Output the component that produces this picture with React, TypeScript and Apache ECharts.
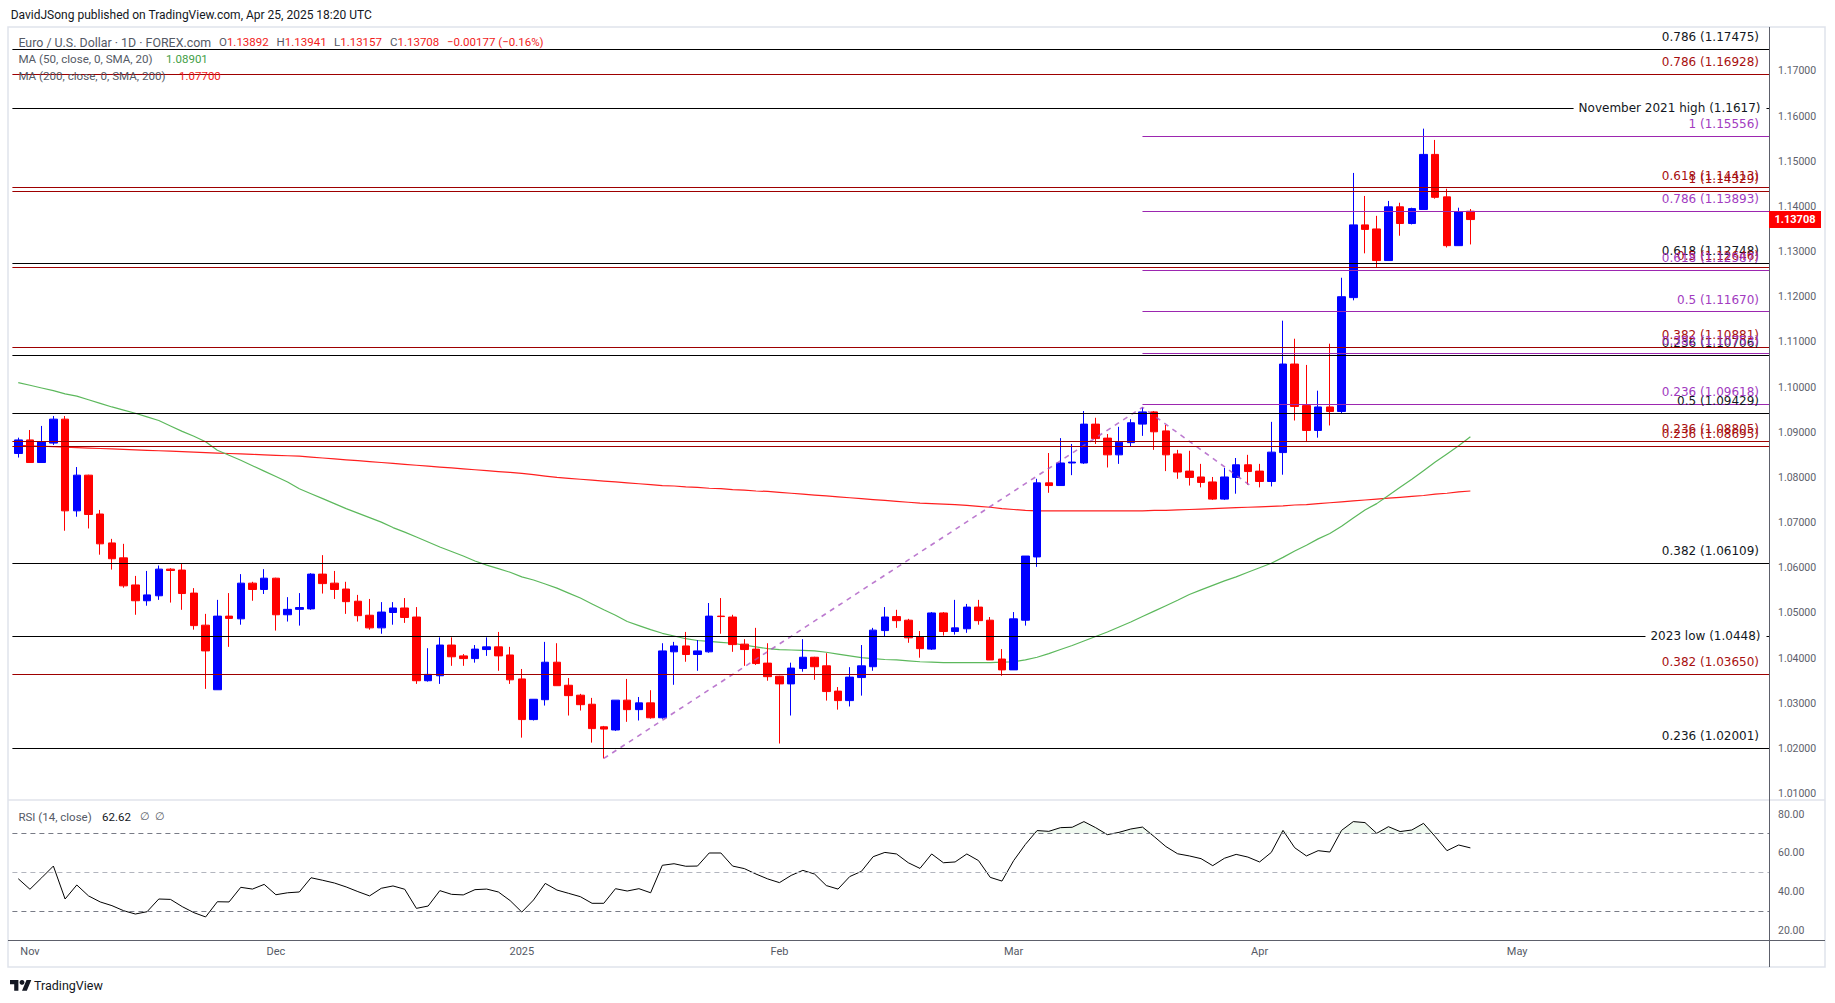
import React, { useEffect, useRef } from 'react';
import * as echarts from 'echarts';

// ---------- categories ----------
function buildTradingDays(start: string, end: string, skip: string[]): string[] {
  const out: string[] = [];
  const d = new Date(start + 'T00:00:00Z');
  const e = new Date(end + 'T00:00:00Z');
  while (d <= e) {
    const wd = d.getUTCDay();
    const s = d.toISOString().slice(0, 10);
    if (wd !== 0 && wd !== 6 && skip.indexOf(s) < 0) out.push(s);
    d.setUTCDate(d.getUTCDate() + 1);
  }
  return out;
}
const holidays = ['2024-12-25', '2025-01-01'];
const dates = buildTradingDays('2024-10-31', '2025-05-30', holidays); // 150 slots, 125 with data

const timeTickDates = ['2024-11-01', '2024-12-02', '2025-01-02', '2025-02-03', '2025-03-03', '2025-04-01', '2025-05-01'];
const timeTickLabels = ['Nov', 'Dec', '2025', 'Feb', 'Mar', 'Apr', 'May'];

const priceTicks = [1.01, 1.02, 1.03, 1.04, 1.05, 1.06, 1.07, 1.08, 1.09, 1.1, 1.11, 1.12, 1.13, 1.14, 1.15, 1.16, 1.17];
const rsiTicks = [20, 40, 60, 80];

// ---------- OHLC ----------
const opens = [
  1.0853, 1.0883, 1.0833, 1.0876, 1.0929, 1.0726, 1.0805, 1.0719, 1.0655, 1.0622,
  1.0562, 1.0527, 1.0538, 1.0597, 1.0595, 1.0544, 1.0473, 1.0330, 1.0493, 1.0487,
  1.0566, 1.0552, 1.0577, 1.0496, 1.0508, 1.0509, 1.0586, 1.0566, 1.0553, 1.0526,
  1.0495, 1.0467, 1.0501, 1.0511, 1.0491, 1.0350, 1.0361, 1.0429, 1.0405, 1.0399,
  1.0419, 1.0425, 1.0407, 1.0354, 1.0264, 1.0308, 1.0391, 1.0340, 1.0318, 1.0298,
  1.0248, 1.0241, 1.0307, 1.0286, 1.0301, 1.0268, 1.0414, 1.0427, 1.0408, 1.0414,
  1.0493, 1.0491, 1.0431, 1.0420, 1.0389, 1.0360, 1.0343, 1.0377, 1.0402, 1.0383,
  1.0327, 1.0306, 1.0357, 1.0381, 1.0461, 1.0492, 1.0484, 1.0447, 1.0420, 1.0500,
  1.0459, 1.0465, 1.0513, 1.0484, 1.0398, 1.0374, 1.0484, 1.0624, 1.0788, 1.0782,
  1.0832, 1.0832, 1.0918, 1.0887, 1.0850, 1.0877, 1.0918, 1.0945, 1.0903, 1.0852,
  1.0814, 1.0801, 1.0790, 1.0752, 1.0800, 1.0828, 1.0814, 1.0791, 1.0855, 1.1051,
  1.0959, 1.0904, 1.0956, 1.0946, 1.1198, 1.1359, 1.1350, 1.1280, 1.1399, 1.1362,
  1.1393, 1.1515, 1.1421, 1.1313, 1.13892,
];
const highs = [
  1.0888, 1.0905, 1.0914, 1.0936, 1.0936, 1.0823, 1.0806, 1.0728, 1.0664, 1.0653,
  1.0582, 1.0593, 1.0605, 1.0599, 1.0609, 1.0555, 1.0498, 1.0529, 1.0544, 1.0586,
  1.0569, 1.0597, 1.0578, 1.0535, 1.0544, 1.0588, 1.0628, 1.0593, 1.0569, 1.0540,
  1.0531, 1.0524, 1.0524, 1.0533, 1.0513, 1.0422, 1.0446, 1.0446, 1.0409, 1.0429,
  1.0446, 1.0458, 1.0425, 1.0376, 1.0309, 1.0436, 1.0433, 1.0356, 1.0321, 1.0312,
  1.0250, 1.0307, 1.0354, 1.0314, 1.0329, 1.0433, 1.0436, 1.0458, 1.0440, 1.0522,
  1.0533, 1.0496, 1.0442, 1.0467, 1.0433, 1.0361, 1.0390, 1.0442, 1.0403, 1.0411,
  1.0336, 1.0380, 1.0429, 1.0467, 1.0513, 1.0507, 1.0487, 1.0460, 1.0502, 1.0502,
  1.0529, 1.0520, 1.0529, 1.0491, 1.0420, 1.0502, 1.0626, 1.0797, 1.0854, 1.0887,
  1.0874, 1.0947, 1.0932, 1.0896, 1.0912, 1.0929, 1.0955, 1.0947, 1.0916, 1.0861,
  1.0859, 1.0830, 1.0801, 1.0821, 1.0843, 1.0850, 1.0830, 1.0923, 1.1147, 1.1107,
  1.1049, 1.0992, 1.1096, 1.1242, 1.1474, 1.1423, 1.1379, 1.1412, 1.1408, 1.1397,
  1.1572, 1.1547, 1.1439, 1.1397, 1.13941,
];
const lows = [
  1.0844, 1.0833, 1.0833, 1.0872, 1.0682, 1.0713, 1.0687, 1.0629, 1.0596, 1.0556,
  1.0496, 1.0516, 1.0529, 1.0523, 1.0507, 1.0463, 1.0332, 1.0330, 1.0425, 1.0474,
  1.0527, 1.0542, 1.0461, 1.0481, 1.0472, 1.0507, 1.0543, 1.0531, 1.0498, 1.0481,
  1.0463, 1.0454, 1.0474, 1.0478, 1.0343, 1.0348, 1.0343, 1.0383, 1.0383, 1.0390,
  1.0405, 1.0372, 1.0343, 1.0224, 1.0262, 1.0295, 1.0339, 1.0273, 1.0284, 1.0213,
  1.0178, 1.0239, 1.0259, 1.0262, 1.0266, 1.0266, 1.0341, 1.0392, 1.0372, 1.0412,
  1.0454, 1.0414, 1.0383, 1.0385, 1.0350, 1.0211, 1.0273, 1.0370, 1.0352, 1.0306,
  1.0286, 1.0293, 1.0317, 1.0372, 1.0447, 1.0467, 1.0434, 1.0401, 1.0418, 1.0450,
  1.0452, 1.0456, 1.0474, 1.0396, 1.0361, 1.0374, 1.0472, 1.0602, 1.0766, 1.0782,
  1.0805, 1.0830, 1.0874, 1.0822, 1.0830, 1.0868, 1.0892, 1.0861, 1.0814, 1.0797,
  1.0782, 1.0778, 1.0750, 1.0750, 1.0764, 1.0784, 1.0778, 1.0780, 1.0806, 1.0926,
  1.0879, 1.0888, 1.0915, 1.0942, 1.1192, 1.1296, 1.1265, 1.1280, 1.1335, 1.1360,
  1.1393, 1.1417, 1.1309, 1.1313, 1.13157,
];
const closes = [
  1.0883, 1.0833, 1.0879, 1.0929, 1.0726, 1.0805, 1.0718, 1.0653, 1.0620, 1.0560,
  1.0527, 1.0540, 1.0597, 1.0594, 1.0543, 1.0472, 1.0416, 1.0493, 1.0488, 1.0566,
  1.0552, 1.0577, 1.0496, 1.0508, 1.0512, 1.0586, 1.0565, 1.0552, 1.0525, 1.0494,
  1.0467, 1.0502, 1.0511, 1.0490, 1.0350, 1.0364, 1.0429, 1.0403, 1.0399, 1.0420,
  1.0425, 1.0405, 1.0352, 1.0264, 1.0309, 1.0391, 1.0339, 1.0317, 1.0297, 1.0244,
  1.0243, 1.0307, 1.0286, 1.0301, 1.0268, 1.0416, 1.0427, 1.0408, 1.0416, 1.0493,
  1.0492, 1.0430, 1.0419, 1.0388, 1.0359, 1.0343, 1.0378, 1.0402, 1.0381, 1.0326,
  1.0306, 1.0358, 1.0383, 1.0462, 1.0491, 1.0483, 1.0445, 1.0421, 1.0500, 1.0459,
  1.0467, 1.0513, 1.0483, 1.0396, 1.0374, 1.0487, 1.0626, 1.0788, 1.0782, 1.0832,
  1.0834, 1.0918, 1.0886, 1.0850, 1.0878, 1.0921, 1.0945, 1.0901, 1.0850, 1.0812,
  1.0800, 1.0789, 1.0752, 1.0801, 1.0828, 1.0813, 1.0791, 1.0856, 1.1051, 1.0957,
  1.0904, 1.0956, 1.0946, 1.1200, 1.1359, 1.1349, 1.1280, 1.1399, 1.1362, 1.1395,
  1.1515, 1.1420, 1.1313, 1.1388, 1.13708,
];

// ---------- moving averages ----------
const ma50 = [
  1.1010, 1.1004, 1.0998, 1.0992, 1.0985, 1.0980, 1.0972, 1.0964, 1.0956, 1.0949,
  1.0942, 1.0934, 1.0926, 1.0914, 1.0902, 1.0891, 1.0879, 1.0860, 1.0849, 1.0838,
  1.0826, 1.0814, 1.0802, 1.0790, 1.0775, 1.0764, 1.0753, 1.0742, 1.0731, 1.0721,
  1.0711, 1.0701, 1.0689, 1.0679, 1.0668, 1.0657, 1.0646, 1.0636, 1.0626, 1.0615,
  1.0606, 1.0598, 1.0590, 1.0580, 1.0573, 1.0564, 1.0555, 1.0544, 1.0533, 1.0520,
  1.0507, 1.0495, 1.0481, 1.0472, 1.0463, 1.0455, 1.0449, 1.0443, 1.0439, 1.0437,
  1.0435, 1.0433, 1.0429, 1.0425, 1.0421, 1.0419, 1.0418, 1.0417, 1.0416, 1.0413,
  1.0409, 1.0405, 1.0401, 1.0399, 1.0397, 1.0396, 1.0394, 1.0392, 1.0391, 1.0390,
  1.0390, 1.0390, 1.0390, 1.0390, 1.0391, 1.0392, 1.0396, 1.0402, 1.0410, 1.0419,
  1.0428, 1.0438, 1.0448, 1.0458, 1.0469, 1.0480, 1.0492, 1.0504, 1.0516, 1.0528,
  1.0541, 1.0551, 1.0561, 1.0571, 1.0580, 1.0590, 1.0600, 1.0610, 1.0623, 1.0637,
  1.0650, 1.0664, 1.0676, 1.0692, 1.0710, 1.0728, 1.0742, 1.0760, 1.0778, 1.0796,
  1.0815, 1.0834, 1.0852, 1.0870, 1.0890,
];
const ma200 = [
  1.0871, 1.0870, 1.0869, 1.0868, 1.0867, 1.0866, 1.0865, 1.0864, 1.0863, 1.0862,
  1.0861, 1.0860, 1.0859, 1.0858, 1.0857, 1.0856, 1.0855, 1.0854, 1.0853, 1.0852,
  1.0851, 1.0850, 1.0849, 1.0848, 1.0847, 1.0845, 1.0843, 1.0841, 1.0839, 1.0837,
  1.0835, 1.0833, 1.0831, 1.0829, 1.0827, 1.0825, 1.0823, 1.0821, 1.0819, 1.0817,
  1.0815, 1.0813, 1.0811, 1.0809, 1.0806, 1.0803, 1.0800, 1.0798, 1.0796, 1.0794,
  1.0792, 1.0790, 1.0788, 1.0786, 1.0784, 1.0782, 1.0781, 1.0779, 1.0778, 1.0776,
  1.0775, 1.0773, 1.0772, 1.0770, 1.0769, 1.0767, 1.0765, 1.0763, 1.0761, 1.0759,
  1.0757, 1.0755, 1.0753, 1.0751, 1.0749, 1.0747, 1.0745, 1.0743, 1.0742, 1.0741,
  1.0740, 1.0738, 1.0736, 1.0734, 1.0731, 1.0729, 1.0727, 1.0726, 1.0726, 1.0726,
  1.0726, 1.0726, 1.0726, 1.0726, 1.0726, 1.0726, 1.0726, 1.0727, 1.0727, 1.0728,
  1.0729, 1.0730, 1.0731, 1.0732, 1.0733, 1.0734, 1.0735, 1.0736, 1.0737, 1.0739,
  1.0740, 1.0742, 1.0744, 1.0746, 1.0748, 1.0750, 1.0752, 1.0754, 1.0756, 1.0758,
  1.0760, 1.0763, 1.0765, 1.0768, 1.0770,
];

// ---------- RSI ----------
const rsi = [
  46.8, 41.4, 47.3, 53.3, 36.4, 43.6, 38.0, 34.9, 33.0, 30.4,
  28.7, 29.9, 36.4, 36.2, 32.5, 29.4, 27.2, 35.0, 34.9, 42.4,
  41.5, 43.9, 38.6, 39.6, 40.0, 47.3, 46.0, 44.6, 42.6, 40.2,
  38.0, 41.9, 43.1, 41.4, 31.6, 32.8, 40.7, 38.8, 38.5, 41.2,
  41.5, 40.0, 35.6, 29.7, 35.9, 44.4, 41.0, 39.3, 37.6, 34.2,
  34.2, 41.7, 40.5, 41.7, 39.6, 53.7, 54.5, 53.2, 53.3, 60.0,
  60.0, 53.3, 52.0, 49.2, 46.7, 44.8, 48.5, 51.1, 49.2, 43.3,
  41.5, 47.9, 50.6, 58.1, 60.3, 59.5, 55.0, 52.1, 59.5, 55.0,
  55.4, 59.5, 56.1, 47.5, 45.6, 56.1, 64.4, 71.5, 71.1, 73.0,
  73.2, 76.1, 73.0, 69.4, 70.6, 72.3, 73.3, 68.4, 63.3, 59.6,
  58.5, 57.1, 53.5, 57.3, 59.3, 57.9, 55.4, 60.3, 71.6, 62.7,
  58.5, 61.2, 60.5, 71.6, 76.1, 75.6, 70.1, 73.5, 71.0, 71.8,
  75.2, 68.4, 61.2, 64.1, 62.62,
];

// ---------- drawn levels ----------
const blackLevels = [1.17475, 1.12748, 1.10706, 1.09429, 1.06109, 1.02001];
const blackLabels = ['0.786 (1.17475)', '0.618 (1.12748)', '0.236 (1.10706)', '0.5 (1.09429)', '0.382 (1.06109)', '0.236 (1.02001)'];
const redLevels = [1.16928, 1.14413, 1.14329, 1.12646, 1.10881, 1.08805, 1.08695, 1.0365];
const redLabels = ['0.786 (1.16928)', '0.618 (1.14413)', '1 (1.14329)', '0.5 (1.12646)', '0.382 (1.10881)', '0.236 (1.08805)', '0.236 (1.08695)', '0.382 (1.03650)'];
const purpleLevels = [1.15556, 1.13893, 1.12587, 1.1167, 1.10753, 1.09618];
const purpleLabels = ['1 (1.15556)', '0.786 (1.13893)', '0.618 (1.12587)', '0.5 (1.11670)', '0.382 (1.10753)', '0.236 (1.09618)'];
const inlineLevels = [1.1617, 1.0448];
const inlineLabels = ['November 2021 high (1.1617)', '2023 low (1.0448)'];
// trend-based fib extension anchors (bar index, price)
const fibAnchorIdx = [50, 96, 105.4];
const fibAnchorPrice = [1.0178, 1.09552, 1.07784];
const lastClose = 1.13708;

const C_BLACK = '#000000';
const C_RED = '#9e0000';
const C_RED_TXT = '#a80f0f';
const C_PURPLE = '#9c27b0';
const C_PURPLE_TXT = '#a23bbf';
const C_AXIS = '#5d606b';
const FONT_UI = 'Roboto, "Liberation Sans", sans-serif';
const FONT_LVL = '"DejaVu Sans", sans-serif';

echarts.graphic.registerShape(
  'tvlogo',
  (echarts.graphic as any).extendPath('M14 22H7V11H0V4h14v18zM28 22h-8l7.5-18h8L28 22z', {})
);

function buildOption(): any {
  const candleData = opens.map((o, i) => [o, closes[i], lows[i], highs[i]]);
  const ob = rsi.map((v) => Math.max(v - 70, 0));
  const obBase = rsi.map(() => 70);
  const hLine = (v: number, color: string) => ({ yAxis: v, lineStyle: { color, width: 1, type: 'solid' } });
  const markData: any[] = [];
  blackLevels.forEach((v) => markData.push(hLine(v, C_BLACK)));
  inlineLevels.forEach((v) => markData.push(hLine(v, C_BLACK)));
  redLevels.forEach((v) => markData.push(hLine(v, C_RED)));
  purpleLevels.forEach((v) =>
    markData.push([
      { coord: [fibAnchorIdx[1], v], lineStyle: { color: C_PURPLE, width: 1, type: 'solid' } },
      { coord: [149.5, v] },
    ])
  );
  const tickSet: Record<string, string> = {};
  timeTickDates.forEach((d, i) => (tickSet[d] = timeTickLabels[i]));

  return {
    animation: false,
    backgroundColor: '#ffffff',
    textStyle: { fontFamily: FONT_UI },
    grid: [
      { left: 12.4, top: 27, width: 1756.6, height: 773, outerBoundsMode: 'none' },
      { left: 12.4, top: 800, width: 1756.6, height: 140, outerBoundsMode: 'none' },
    ],
    xAxis: [
      { type: 'category', gridIndex: 0, data: dates, boundaryGap: true, axisLine: { show: false }, axisTick: { show: false }, axisLabel: { show: false }, splitLine: { show: false } },
      { type: 'value', gridIndex: 0, min: -0.5, max: 149.5, show: false },
      {
        type: 'category', gridIndex: 1, data: dates, boundaryGap: true,
        axisLine: { show: false }, axisTick: { show: false }, splitLine: { show: false },
        axisLabel: {
          interval: (_i: number, v: string) => tickSet[v] !== undefined,
          formatter: (v: string) => tickSet[v] || '',
          color: '#555a66', fontSize: 11, fontFamily: FONT_UI, margin: 6,
        },
      },
    ],
    yAxis: [
      {
        type: 'value', gridIndex: 0, position: 'right', min: 1.0086, max: 1.1797,
        axisLine: { show: false }, axisTick: { show: false }, splitLine: { show: false },
        axisLabel: { customValues: priceTicks, formatter: (v: number) => v.toFixed(5), margin: 9, color: '#5d606b', fontSize: 10.5, fontFamily: FONT_UI },
      },
      {
        type: 'value', gridIndex: 1, position: 'right', min: 15.38, max: 87.18,
        axisLine: { show: false }, axisTick: { show: false }, splitLine: { show: false },
        axisLabel: { customValues: rsiTicks, formatter: (v: number) => v.toFixed(2), margin: 9, color: '#5d606b', fontSize: 10.5, fontFamily: FONT_UI },
      },
    ],
    series: [
      {
        type: 'line', name: 'MA200', xAxisIndex: 0, yAxisIndex: 0, data: ma200, symbol: 'none', silent: true,
        lineStyle: { color: '#ff1f1f', width: 1.2 }, z: 1,
      },
      {
        type: 'line', name: 'MA50', xAxisIndex: 0, yAxisIndex: 0, data: ma50, symbol: 'none', silent: true,
        lineStyle: { color: '#5cb85c', width: 1.2 }, z: 1,
      },
      {
        type: 'candlestick', name: 'EURUSD', xAxisIndex: 0, yAxisIndex: 0, data: candleData, barWidth: 8, z: 2,
        itemStyle: { color: '#0000ff', color0: '#ff0000', borderColor: '#0000ff', borderColor0: '#ff0000', borderWidth: 1 },
      },
      {
        type: 'line', name: 'levels', xAxisIndex: 1, yAxisIndex: 0, data: [[-100, 1.1]], symbol: 'none', silent: true, z: 3,
        lineStyle: { opacity: 0 },
        markLine: { symbol: ['none', 'none'], precision: 6, silent: true, label: { show: false }, animation: false, data: markData },
      },
      {
        type: 'line', name: 'fibTrend', xAxisIndex: 1, yAxisIndex: 0, symbol: 'none', silent: true, z: 3,
        data: fibAnchorIdx.map((x, i) => [x, fibAnchorPrice[i]]),
        lineStyle: { color: '#a64dbf', width: 1.6, type: [5, 5], opacity: 0.75 },
      },
      {
        type: 'line', name: 'obBase', xAxisIndex: 2, yAxisIndex: 1, data: obBase, stack: 'ob', symbol: 'none', silent: true,
        lineStyle: { opacity: 0 },
      },
      {
        type: 'line', name: 'obFill', xAxisIndex: 2, yAxisIndex: 1, data: ob, stack: 'ob', symbol: 'none', silent: true,
        lineStyle: { opacity: 0 }, areaStyle: { color: 'rgba(76,175,80,0.13)' },
      },
      {
        type: 'line', name: 'RSI', xAxisIndex: 2, yAxisIndex: 1, data: rsi, symbol: 'none', silent: true,
        lineStyle: { color: '#000000', width: 1 }, z: 3,
        markLine: {
          symbol: ['none', 'none'], silent: true, label: { show: false },
          data: [
            { yAxis: 70, lineStyle: { color: '#787b86', type: [5, 4], width: 1 } },
            { yAxis: 50, lineStyle: { color: '#b2b5be', type: [5, 4], width: 1 } },
            { yAxis: 30, lineStyle: { color: '#787b86', type: [5, 4], width: 1 } },
          ],
        },
      },
    ],
  };
}

function txt(id: string, text: string, x: number, y: number, fill: string, extra: any = {}, z = 100): any {
  return {
    type: 'text', id, z, silent: true,
    style: Object.assign({ text, x, y, fill, fontSize: 12, fontFamily: FONT_UI, align: 'left', verticalAlign: 'middle' }, extra),
  };
}

function buildGraphics(py: (v: number) => number): any[] {
  const g: any[] = [];
  // frame & separators
  g.push({ type: 'rect', id: 'frame', z: 90, silent: true, shape: { x: 8, y: 27, width: 1817, height: 940 }, style: { fill: 'none', stroke: '#e0e3eb', lineWidth: 1.5 } });
  g.push({ type: 'line', id: 'sepRsi', z: 90, silent: true, shape: { x1: 8, y1: 800, x2: 1825, y2: 800 }, style: { stroke: '#e0e3eb', lineWidth: 1.5 } });
  g.push({ type: 'line', id: 'timeLine', z: 90, silent: true, shape: { x1: 8, y1: 940.5, x2: 1825, y2: 940.5 }, style: { stroke: C_AXIS, lineWidth: 1 } });
  g.push({ type: 'line', id: 'priceLine', z: 90, silent: true, shape: { x1: 1769.5, y1: 27, x2: 1769.5, y2: 967 }, style: { stroke: C_AXIS, lineWidth: 1 } });

  // level labels
  const lvl = (id: string, text: string, v: number, color: string) =>
    txt(id, text, 1759, py(v) - 6, color, { align: 'right', verticalAlign: 'bottom', fontFamily: FONT_LVL, fontSize: 12 });
  blackLevels.forEach((v, i) => g.push(lvl('bl' + i, blackLabels[i], v, '#131722')));
  redLevels.forEach((v, i) => g.push(lvl('rl' + i, redLabels[i], v, C_RED_TXT)));
  purpleLevels.forEach((v, i) => g.push(lvl('pl' + i, purpleLabels[i], v, C_PURPLE_TXT)));
  inlineLevels.forEach((v, i) =>
    g.push(txt('il' + i, inlineLabels[i], 1766.5, py(v), '#131722', {
      align: 'right', verticalAlign: 'middle', fontFamily: FONT_LVL, fontSize: 12,
      backgroundColor: '#ffffff', padding: [2, 6, 2, 5],
    }))
  );

  // last price tag
  const yp = py(lastClose);
  g.push({ type: 'rect', id: 'lastBox', z: 101, silent: true, shape: { x: 1769, y: yp - 8.5, width: 52, height: 17 }, style: { fill: '#ff0000' } });
  g.push(txt('lastTxt', lastClose.toFixed(5), 1795, yp, '#ffffff', { align: 'center', fontSize: 11, fontWeight: 'bold' }, 102));

  // header
  g.push(txt('hdr', 'DavidJSong published on TradingView.com, Apr 25, 2025 18:20 UTC', 10.7, 15, '#131722', { fontSize: 12 }));

  // legend
  const gray = '#555a66';
  const red = '#f21b1b';
  const lf = 12.4;
  g.push(txt('lg0', 'Euro / U.S. Dollar · 1D · FOREX.com', 18.4, 42.3, gray, { fontSize: lf }));
  const ohlc: any[] = [['O', '1.13892', 219], ['H', '1.13941', 276.6], ['L', '1.13157', 334], ['C', '1.13708', 390]];
  ohlc.forEach((p, i) =>
    g.push({
      type: 'text', id: 'ohlc' + i, z: 100, silent: true,
      style: {
        text: '{a|' + p[0] + '}{b|' + p[1] + '}', x: p[2], y: 42.3, verticalAlign: 'middle', fontSize: 11.5, fontFamily: FONT_UI,
        rich: { a: { fill: gray, fontSize: 11.5, fontFamily: FONT_UI }, b: { fill: red, fontSize: 11.5, fontFamily: FONT_UI } },
      },
    })
  );
  g.push(txt('chg', '\u22120.00177 (\u22120.16%)', 447, 42.3, red, { fontSize: 11.5 }));
  const mf = 11.6;
  g.push(txt('ma50l', 'MA (50, close, 0, SMA, 20)', 18.4, 59, gray, { fontSize: mf }));
  g.push(txt('ma50v', '1.08901', 166, 59, '#43a047', { fontSize: 11.5 }));
  g.push(txt('ma200l', 'MA (200, close, 0, SMA, 200)', 18.4, 75.7, gray, { fontSize: mf }));
  g.push(txt('ma200v', '1.07700', 179, 75.7, red, { fontSize: 11.5 }));

  // RSI legend
  g.push(txt('rsil', 'RSI (14, close)', 18.4, 816.7, gray, { fontSize: 11.5 }));
  g.push(txt('rsiv', '62.62', 102, 816.7, '#131722', { fontSize: 11.5 }));
  g.push(txt('rsin', '\u2205  \u2205', 139.5, 816.7, gray, { fontSize: 11 }));

  // footer logo
  g.push({ type: 'tvlogo', id: 'logo', z: 100, silent: true, x: 10, y: 977.6, scaleX: 0.6, scaleY: 0.6, style: { fill: '#131722' } });
  g.push({ type: 'circle', id: 'logoDot', z: 100, silent: true, shape: { cx: 10 + 20 * 0.6, cy: 977.6 + 8 * 0.6, r: 4 * 0.6 }, style: { fill: '#131722' } });
  g.push(txt('tvtxt', 'TradingView', 34, 985, '#131722', { fontSize: 12.5 }));
  return g;
}

export default function App() {
  const ref = useRef<HTMLDivElement>(null);
  useEffect(() => {
    const el = ref.current as HTMLDivElement;
    const chart = echarts.init(el, null, { renderer: 'svg' });
    chart.setOption(buildOption());
    const py = (v: number) => chart.convertToPixel({ yAxisIndex: 0 } as any, v) as unknown as number;
    chart.setOption({ graphic: buildGraphics(py) });
    return () => chart.dispose();
  }, []);
  return (
    <div
      ref={ref}
      style={{ position: 'fixed', left: 0, top: 0, width: 1835, height: 1003, background: '#ffffff' }}
    />
  );
}
